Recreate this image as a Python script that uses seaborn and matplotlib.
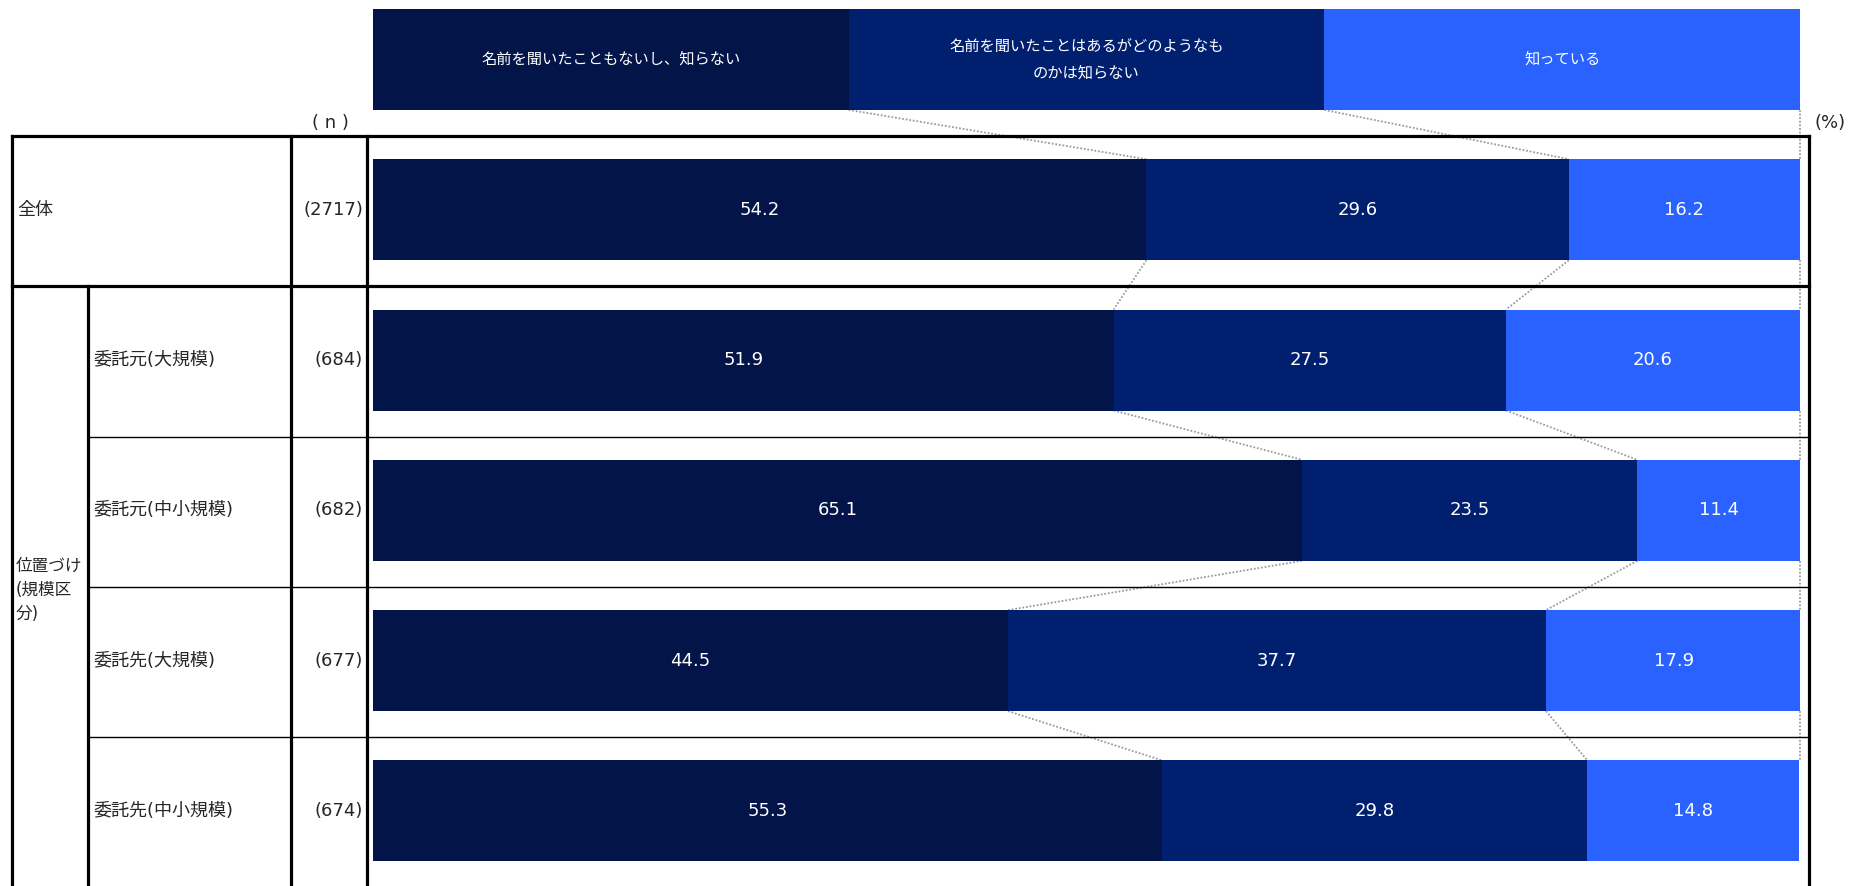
import numpy as np
import pandas as pd
import matplotlib
matplotlib.use("Agg")
import matplotlib.pyplot as plt
from matplotlib.lines import Line2D
import seaborn as sns

# Survey data: awareness by respondent category (%)
groups = ["全体", "委託元(大規模)", "委託元(中小規模)", "委託先(大規模)", "委託先(中小規模)"]
sample_sizes = ["(2717)", "(684)", "(682)", "(677)", "(674)"]
never_heard = [54.2, 51.9, 65.1, 44.5, 55.3]
heard_only = [29.6, 27.5, 23.5, 37.7, 29.8]
aware = [16.2, 20.6, 11.4, 17.9, 14.8]
series_names = [
    "名前を聞いたこともないし、知らない",
    "名前を聞いたことはあるがどのようなも\nのかは知らない",
    "知っている",
]
group_heading = "位置づけ\n(規模区\n分)"
colors = ["#021448", "#00206F", "#2962FF"]

sns.set_theme(style="white")
plt.rcParams["font.family"] = ["DejaVu Sans", "Noto Sans CJK JP"]

W, H = 1850, 886
fig = plt.figure(figsize=(W / 100, H / 100), dpi=100)


def fx(px):
    return px / W


def fy(py):
    return 1 - py / H


# vertical geometry of the rows (pixels)
row_step = 150.3
row0 = 209.7
bar_left, bar_right = 373, 1800
bar_h = 101 / row_step
fs = 13

ax = fig.add_axes([fx(bar_left), 0, (bar_right - bar_left) / W, 1])

series = np.array([never_heard, heard_only, aware])
cum = np.cumsum(series, axis=0)
starts = cum - series
df = pd.DataFrame({"group": groups, "c1": cum[0], "c2": cum[1], "c3": cum[2]})

# stacked bars: draw cumulative totals from the longest down
for col, color in zip(["c3", "c2", "c1"], colors[::-1]):
    sns.barplot(data=df, x=col, y="group", order=groups, orient="h",
                color=color, width=bar_h, errorbar=None, saturation=1,
                linewidth=0, ax=ax)

# header row acting as legend
head_w = np.full(3, 100 / 3)
head_left = np.concatenate([[0], np.cumsum(head_w)[:-1]])
ax.barh([-1] * 3, head_w, left=head_left, height=bar_h, color=colors, linewidth=0)
for l, w, name in zip(head_left, head_w, series_names):
    ax.text(l + w / 2, -1, name, color="white", ha="center", va="center",
            fontsize=11, family=["Noto Sans CJK JP"], linespacing=1.75)

# value labels
for k in range(series.shape[0]):
    for i in range(len(groups)):
        ax.text(starts[k, i] + series[k, i] / 2, i, f"{series[k, i]:.1f}",
                color="white", ha="center", va="center", fontsize=fs)

# dotted connectors between segment boundaries of consecutive rows
head_bounds = np.cumsum(head_w)
row_bounds = np.vstack([cum[0], cum[1], np.full(len(groups), 100.0)])
all_bounds = np.column_stack([head_bounds, row_bounds])
for k in range(all_bounds.shape[0]):
    for j in range(len(groups)):
        ax.plot([all_bounds[k, j], all_bounds[k, j + 1]],
                [j - 1 + bar_h / 2, j - bar_h / 2],
                color="#9C9C9C", lw=1.3, ls=(0, (1, 1)), clip_on=False, zorder=0)

ax.set_xlim(0, 100)
ax.set_ylim((H - row0) / row_step, -row0 / row_step)
ax.axis("off")

# table grid
thick, thin = 2.3, 1.0


def hline(y, x0, x1, lw):
    fig.add_artist(Line2D([fx(x0), fx(x1)], [fy(y), fy(y)], transform=fig.transFigure,
                          color="black", lw=lw, solid_capstyle="projecting"))


def vline(x, y0, y1, lw):
    fig.add_artist(Line2D([fx(x), fx(x)], [fy(y0), fy(y1)], transform=fig.transFigure,
                          color="black", lw=lw, solid_capstyle="projecting"))


hline(136, 12, 1809, thick)
hline(286, 12, 1809, thick)
for y in (437, 587, 737):
    hline(y, 88, 1809, thin)
for x in (12, 291, 367, 1809):
    vline(x, 136, 886, thick)
vline(88, 286, 886, thick)

# table texts
row_centers = [row0 + i * row_step for i in range(len(groups))]
fig.text(fx(17), fy(row_centers[0]), groups[0], ha="left", va="center", fontsize=fs)
for yc, name in zip(row_centers[1:], groups[1:]):
    fig.text(fx(93), fy(yc), name, ha="left", va="center", fontsize=fs)
for yc, n in zip(row_centers, sample_sizes):
    fig.text(fx(363), fy(yc), n, ha="right", va="center", fontsize=fs)
fig.text(fx(16), fy(590), group_heading, ha="left", va="center", fontsize=12,
         linespacing=1.45)
fig.text(fx(330), fy(123), "( n )", ha="center", va="center", fontsize=fs)
fig.text(fx(1830), fy(123), "(%)", ha="center", va="center", fontsize=fs)

fig.savefig("out.png", dpi=100)
